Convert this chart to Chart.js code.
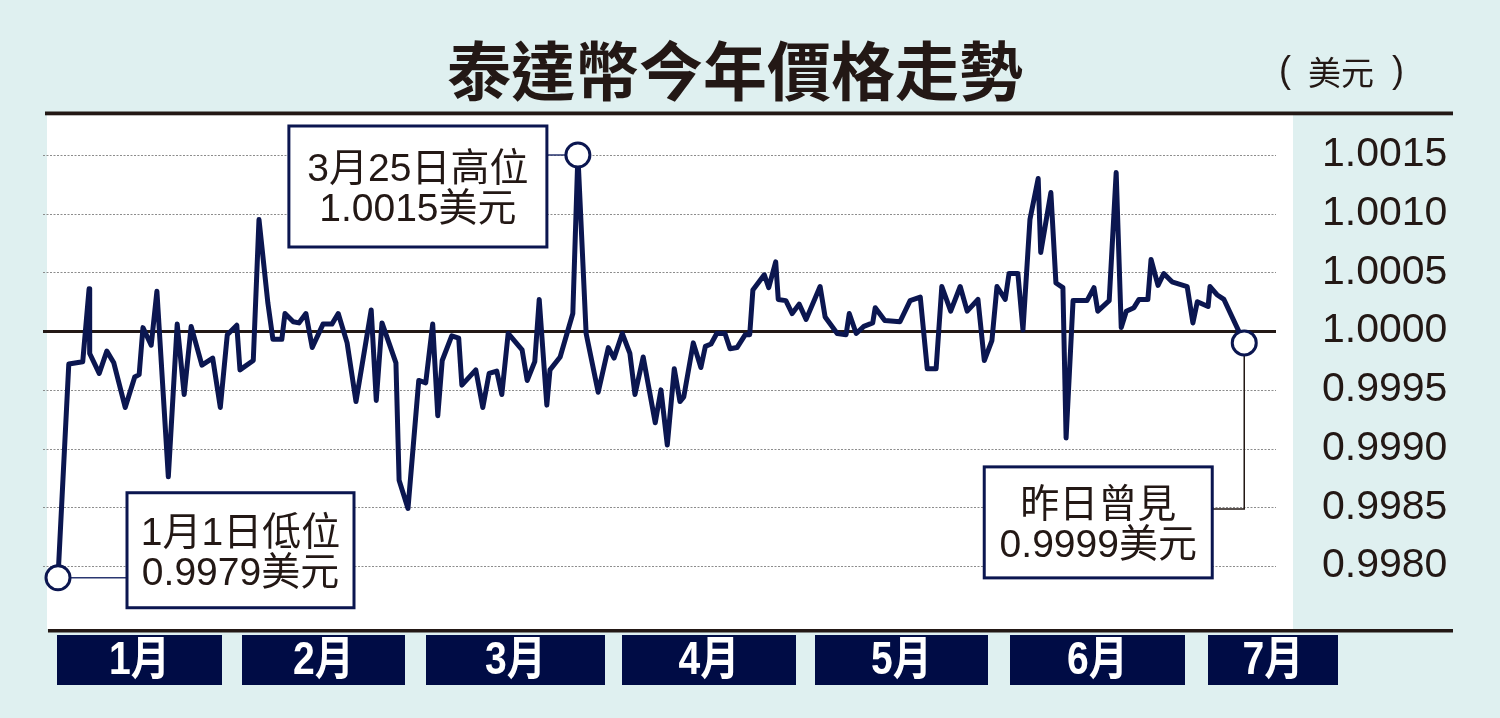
<!DOCTYPE html>
<html><head><meta charset="utf-8">
<script src="https://cdn.jsdelivr.net/npm/chart.js@4/dist/chart.umd.min.js"></script>
<style>html,body{margin:0;padding:0;background:#dff0f0;}canvas{display:block;}</style>
</head><body>
<canvas id="c" width="1500" height="718"></canvas>
<script>
// ---- data ----
const chartTitle = '泰達幣今年價格走勢';
const unitLabel = '美元';
const monthLabels = ['1月', '2月', '3月', '4月', '5月', '6月', '7月'];
const tickValues = [0.9980, 0.9985, 0.9990, 0.9995, 1.0000, 1.0005, 1.0010, 1.0015];
// day offset from 1 January
const days = [0.0, 1.7, 3.9, 4.9, 5.0, 6.5, 7.7, 8.8, 10.6, 12.1, 12.8, 13.4, 14.7, 15.6, 17.4, 18.8, 19.9, 21.0, 22.7, 24.4,
  25.6, 26.7, 28.2, 28.7, 30.8, 31.7, 33.1, 33.9, 35.3, 35.8, 37.1, 38.0, 39.1, 40.1, 41.8, 43.2, 44.2, 45.6, 47.0, 49.4,
  50.2, 51.1, 53.3, 53.8, 55.2, 56.9, 58.0, 59.1, 59.9, 60.6, 62.1, 63.2, 63.7, 65.9, 67.0, 68.0, 69.2, 70.0, 71.0, 73.2,
  74.0, 75.2, 75.9, 77.1, 77.6, 79.2, 81.2, 82.0, 83.3, 85.2, 86.8, 87.7, 89.0, 90.2, 91.0, 92.3, 94.2, 95.1, 96.1, 97.2,
  98.1, 98.7, 100.2, 101.4, 102.1, 103.0, 103.9, 105.2, 106.0, 107.1, 108.4, 109.1, 109.6, 111.4, 112.1, 113.2, 113.6, 114.8, 115.8, 116.9,
  118.0, 120.2, 121.0, 122.9, 124.3, 124.8, 125.9, 127.1, 128.5, 128.9, 130.4, 132.8, 134.4, 136.0, 137.1, 138.5, 139.4, 140.8, 142.3, 143.4,
  145.1, 146.1, 147.3, 148.1, 149.4, 150.0, 151.4, 152.2, 153.3, 154.6, 155.0, 156.6, 157.4, 158.5, 159.0, 160.1, 162.3, 163.4, 164.0, 165.8,
  166.9, 167.7, 168.5, 169.7, 170.5, 171.9, 172.4, 173.5, 174.4, 175.7, 178.1, 179.0, 179.7, 181.4, 181.7, 182.8, 183.9, 187.1];
const prices = [0.9979, 0.99972, 0.99974, 1.00036, 0.99981, 0.99964, 0.99983, 0.99973, 0.99935, 0.99961, 0.99963, 1.00003, 0.99988, 1.00034, 0.99876, 1.00006, 0.99946, 1.00004, 0.99971, 0.99977,
  0.99935, 0.99997, 1.00005, 0.99967, 0.99975, 1.00095, 1.00024, 0.99993, 0.99993, 1.00015, 1.00008, 1.00007, 1.00015, 0.99986, 1.00006, 1.00006, 1.00015, 0.99990, 0.99940, 1.00018,
  0.99941, 1.00007, 0.99973, 0.99873, 0.99849, 0.99958, 0.99956, 1.00006, 0.99928, 0.99975, 0.99996, 0.99994, 0.99954, 0.99967, 0.99935, 0.99964, 0.99966, 0.99946, 0.99998, 0.99984,
  0.99958, 0.99974, 1.00027, 0.99937, 0.99967, 0.99978, 1.00015, 1.0015, 0.99998, 0.99948, 0.99986, 0.99977, 0.99998, 0.99981, 0.99946, 0.99978, 0.99922, 0.99950, 0.99903, 0.99968,
  0.99940, 0.99944, 0.99990, 0.99969, 0.99987, 0.99989, 0.99998, 0.99998, 0.99985, 0.99986, 0.99997, 0.99997, 1.00035, 1.00048, 1.00037, 1.00059, 1.00027, 1.00026, 1.00015, 1.00023,
  1.00010, 1.00038, 1.00012, 0.99998, 0.99997, 1.00015, 0.99998, 1.00004, 1.00007, 1.00020, 1.00009, 1.00008, 1.00026, 1.00029, 0.99968, 0.99968, 1.00038, 1.00017, 1.00038, 1.00017,
  1.00027, 0.99975, 0.99992, 1.00038, 1.00027, 1.00049, 1.00049, 1.00001, 1.00095, 1.00130, 1.00067, 1.00118, 1.00041, 1.00037, 0.99909, 1.00026, 1.00026, 1.00037, 1.00017, 1.00026,
  1.00135, 1.00003, 1.00017, 1.00020, 1.00027, 1.00027, 1.00061, 1.00039, 1.00049, 1.00042, 1.00038, 1.00007, 1.00025, 1.00021, 1.00038, 1.00031, 1.00027, 0.9999];
const noteLow = ['1月1日低位', '0.9979美元'];
const noteHigh = ['3月25日高位', '1.0015美元'];
const noteLast = ['昨日曾見', '0.9999美元'];

// ---- derived ----
const points = days.map((d, i) => ({ x: d, y: prices[i] }));
const iHigh = prices.indexOf(Math.max(...prices));
const iLast = prices.length - 1;
const marked = [0, iHigh, iLast];

const NAVY = '#0b1650';
const INK = '#231815';
const TXTFONT = '39px "Liberation Sans", "Noto Sans CJK TC", sans-serif';

function drawNote(ctx, box, lines) {
  ctx.save();
  ctx.fillStyle = '#ffffff';
  ctx.fillRect(box.l, box.t, box.w, box.h);
  ctx.strokeStyle = NAVY;
  ctx.lineWidth = 3;
  ctx.strokeRect(box.l, box.t, box.w, box.h);
  ctx.fillStyle = INK;
  ctx.font = TXTFONT;
  ctx.textAlign = 'center';
  ctx.textBaseline = 'alphabetic';
  const cx = box.l + box.w / 2, cy = box.t + box.h / 2;
  ctx.fillText(lines[0], cx, cy - 5);
  ctx.fillText(lines[1], cx, cy + 35);
  ctx.restore();
}

const decor = {
  id: 'decor',
  beforeDraw(chart) {
    const ctx = chart.ctx;
    const ca = chart.chartArea;
    ctx.save();
    ctx.fillStyle = '#dff0f0';
    ctx.fillRect(0, 0, chart.width, chart.height);
    ctx.fillStyle = '#ffffff';
    ctx.fillRect(ca.left, ca.top, ca.right - ca.left, ca.bottom - ca.top);
    // gridlines from the y scale
    const ys = chart.scales.y;
    ys.ticks.forEach(t => {
      const y = Math.round(ys.getPixelForValue(t.value)) + 0.5;
      ctx.beginPath();
      if (Math.abs(t.value - 1) < 1e-9) {
        ctx.setLineDash([]);
        ctx.strokeStyle = INK;
        ctx.lineWidth = 3;
      } else {
        ctx.setLineDash([2, 1.5]);
        ctx.strokeStyle = '#8c8c8c';
        ctx.lineWidth = 1;
      }
      ctx.moveTo(ca.left - 4, y);
      ctx.lineTo(ca.right - 17, y);
      ctx.stroke();
    });
    ctx.setLineDash([]);
    // top and bottom rules
    ctx.fillStyle = INK;
    ctx.fillRect(45, 111.5, 1408, 3.8);
    ctx.fillRect(48, 629, 1405, 3.5);
    // title
    ctx.font = 'bold 64px "Noto Sans CJK TC", sans-serif';
    ctx.textAlign = 'center';
    ctx.textBaseline = 'middle';
    ctx.fillText(chartTitle, 735, 71);
    // unit
    ctx.font = '36px "Liberation Sans", "Noto Sans CJK TC", sans-serif';
    ctx.textAlign = 'left';
    ctx.fillText('(', 1279, 72);
    ctx.textAlign = 'center';
    ctx.font = '33px "Noto Sans CJK TC", sans-serif';
    ctx.fillText(unitLabel, 1341, 72);
    ctx.font = '36px "Liberation Sans", "Noto Sans CJK TC", sans-serif';
    ctx.textAlign = 'right';
    ctx.fillText(')', 1404, 72);
    // month boxes
    const boxes = [[57, 222], [242, 405], [426, 605], [622, 796], [815, 988], [1010, 1185], [1208, 1338]];
    monthLabels.forEach((m, i) => {
      const [l, r] = boxes[i];
      ctx.fillStyle = '#000c45';
      ctx.fillRect(l, 635, r - l, 50);
      ctx.save();
      ctx.translate((l + r) / 2, 661);
      ctx.scale(0.85, 1);
      ctx.fillStyle = '#ffffff';
      ctx.font = 'bold 46px "Liberation Sans", "Noto Sans CJK TC", sans-serif';
      ctx.textAlign = 'center';
      ctx.textBaseline = 'middle';
      ctx.fillText(m, 0, 0);
      ctx.restore();
    });
    ctx.restore();
  },
  beforeDatasetsDraw(chart) {
    const ctx = chart.ctx;
    const meta = chart.getDatasetMeta(0).data;
    const p0 = meta[0], pH = meta[iHigh], pL = meta[iLast];
    ctx.save();
    ctx.lineWidth = 1.5;
    ctx.strokeStyle = '#2a3670';
    ctx.beginPath();
    ctx.moveTo(p0.x, p0.y); ctx.lineTo(p0.x + 69, p0.y);
    ctx.moveTo(pH.x - 31, pH.y); ctx.lineTo(pH.x, pH.y);
    ctx.stroke();
    ctx.strokeStyle = INK;
    ctx.beginPath();
    ctx.moveTo(pL.x - 32, pL.y + 166); ctx.lineTo(pL.x, pL.y + 166); ctx.lineTo(pL.x, pL.y);
    ctx.stroke();
    ctx.restore();
  },
  afterDatasetsDraw(chart) {
    const ctx = chart.ctx;
    const meta = chart.getDatasetMeta(0).data;
    const p0 = meta[0], pH = meta[iHigh], pL = meta[iLast];
    drawNote(ctx, { l: p0.x + 69, t: p0.y - 85, w: 227, h: 115 }, noteLow);
    drawNote(ctx, { l: pH.x - 289, t: pH.y - 29, w: 258, h: 121 }, noteHigh);
    drawNote(ctx, { l: pL.x - 260, t: pL.y + 124, w: 228, h: 111 }, noteLast);
  }
};

new Chart(document.getElementById('c'), {
  type: 'line',
  data: {
    datasets: [{
      data: points,
      borderColor: NAVY,
      borderWidth: 5,
      borderJoinStyle: 'round',
      borderCapStyle: 'round',
      tension: 0,
      clip: false,
      pointRadius: ctx => marked.includes(ctx.dataIndex) ? 12 : 0,
      pointHoverRadius: ctx => marked.includes(ctx.dataIndex) ? 12 : 0,
      pointBackgroundColor: '#ffffff',
      pointBorderColor: NAVY,
      pointBorderWidth: 3
    }]
  },
  options: {
    responsive: false,
    animation: false,
    devicePixelRatio: 1,
    events: [],
    layout: { padding: { left: 47, top: 115, right: 0, bottom: 89 } },
    plugins: { legend: { display: false }, tooltip: { enabled: false }, title: { display: false } },
    scales: {
      x: { type: 'linear', display: false, min: -1.735, max: 194.79 },
      y: {
        type: 'linear',
        position: 'right',
        min: 0.9974635,
        max: 1.0018406,
        afterFit: s => { s.width = 207; },
        afterBuildTicks: s => { s.ticks = tickValues.map(v => ({ value: v })); },
        grid: { display: false, drawTicks: false },
        border: { display: false },
        ticks: {
          autoSkip: false,
          padding: 29,
          color: INK,
          font: { family: '"Liberation Sans", Arial, sans-serif', size: 41 },
          callback: v => Number(v).toFixed(4)
        }
      }
    }
  },
  plugins: [decor]
});
</script>
</body></html>
